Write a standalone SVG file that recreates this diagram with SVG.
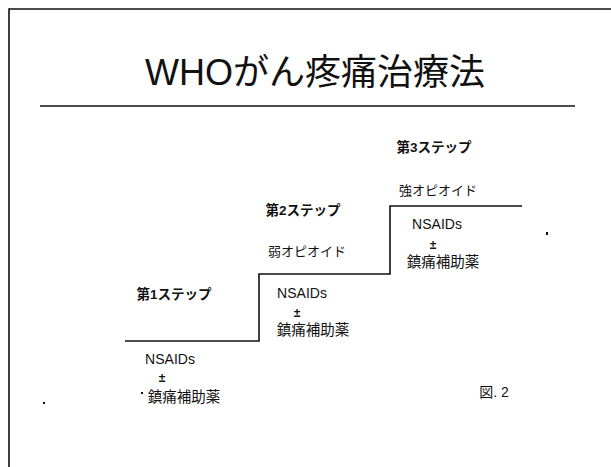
<svg xmlns="http://www.w3.org/2000/svg" width="611" height="467" viewBox="0 0 611 467">
<style>
text{font-family:"Liberation Sans","Noto Sans CJK JP",sans-serif;fill:#111;text-anchor:middle}
.t{font-size:36px}
.s{font-size:13.5px;font-weight:bold}
.n{font-size:14px}
.pm{font-size:12px;font-weight:bold}
.j{font-size:14.5px}
.o{font-size:13px}
.line{fill:none;stroke:#111;stroke-width:1.6}
</style>
<rect width="611" height="467" fill="#fff"/>
<g id="frame">
<path class="line" d="M9,467 V9 H611" stroke-width="2"/>
</g>
<g id="title">
<text class="t" x="315" y="85">WHOがん疼痛治療法</text>
<path class="line" d="M40,106 H575"/>
</g>
<g id="connectors">
<path class="line" d="M125,341 H259 V274 H390 V206 H522"/>
</g>
<g id="step1">
<text class="s" x="174" y="299">第1ステップ</text>
<text class="n" x="170" y="364">NSAIDs</text>
<text class="pm" x="162" y="382">±</text>
<text class="j" x="184" y="402">鎮痛補助薬</text>
</g>
<g id="step2">
<text class="s" x="303" y="215">第2ステップ</text>
<text class="o" x="307" y="256">弱オピオイド</text>
<text class="n" x="302" y="298">NSAIDs</text>
<text class="pm" x="297" y="317">±</text>
<text class="j" x="313" y="335">鎮痛補助薬</text>
</g>
<g id="step3">
<text class="s" x="434" y="152">第3ステップ</text>
<text class="o" x="438" y="195">強オピオイド</text>
<text class="n" x="437" y="229">NSAIDs</text>
<text class="pm" x="433" y="249">±</text>
<text class="j" x="443" y="267">鎮痛補助薬</text>
</g>
<g id="fig">
<text class="n" x="494" y="397">図. 2</text>
</g>
<g id="marks" fill="#111">
<rect x="546" y="232" width="2" height="3"/>
<rect x="43" y="402" width="2" height="2"/>
<rect x="141" y="392" width="2" height="2"/>
</g>
</svg>
